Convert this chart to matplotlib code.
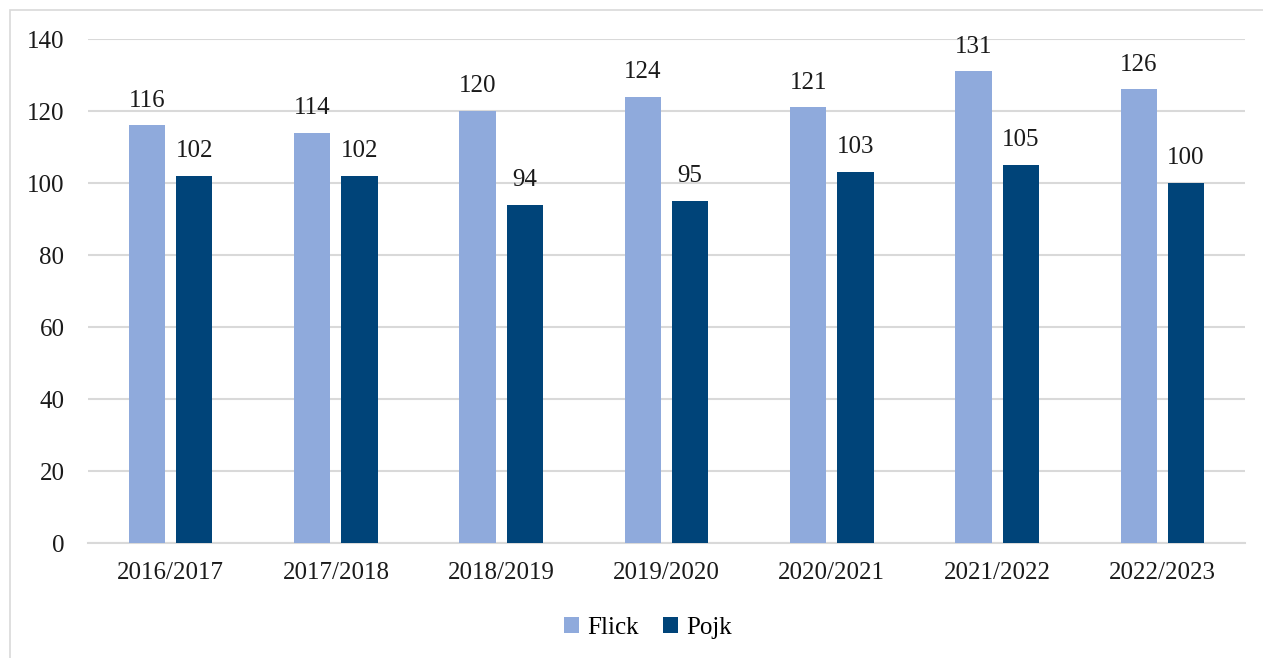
import matplotlib.pyplot as plt
import matplotlib.patches as mpatches
import numpy as np

years = ['2016/2017', '2017/2018', '2018/2019', '2019/2020', '2020/2021', '2021/2022', '2022/2023']
flick = [116, 114, 120, 124, 121, 131, 126]
pojk = [102, 102, 94, 95, 103, 105, 100]

plt.rcParams['font.family'] = ['Liberation Serif', 'DejaVu Serif']

W, H = 1263, 658
fig = plt.figure(figsize=(W / 100, H / 100), dpi=100)
fig.patches.append(mpatches.Rectangle((10 / W, -0.1), 1.2, 1.1 - 10 / H + 0.0,
                                      transform=fig.transFigure, fill=False,
                                      edgecolor='#d9d9d9', linewidth=1.2))
ax = fig.add_axes([88 / W, 1 - 543 / H, (1245 - 88) / W, (543 - 39) / H])

x = np.arange(len(years))
w = 0.22
off = 0.143
b1 = ax.bar(x - off, flick, w, color='#8faadc', label='Flick', zorder=3)
b2 = ax.bar(x + off, pojk, w, color='#004479', label='Pojk', zorder=3)
for bars in (b1, b2):
    for r in bars:
        ax.annotate(str(int(r.get_height())), (r.get_x() + r.get_width() / 2, r.get_height()),
                    xytext=(0, 10), textcoords='offset points', ha='center', va='bottom',
                    fontsize=18, color='#1a1a1a')

ax.set_xlim(-0.5, len(years) - 0.5)
ax.set_ylim(0, 140)
ax.set_yticks(range(0, 141, 20))
ax.set_xticks(x)
ax.set_xticklabels(years)
ax.tick_params(axis='both', length=0, labelsize=18, colors='#1a1a1a')
ax.tick_params(axis='y', pad=17)
ax.tick_params(axis='x', pad=14)
ax.grid(axis='y', color='#d9d9d9', linewidth=1.5, zorder=0)
for s in ('top', 'right', 'left'):
    ax.spines[s].set_visible(False)
ax.spines['bottom'].set_color('#d9d9d9')
ax.spines['bottom'].set_linewidth(1.5)

fig.legend(handles=[b1, b2], loc='center', bbox_to_anchor=(648 / W, 1 - 628 / H), ncol=2,
           frameon=False, fontsize=18, handlelength=0.6, handleheight=0.6,
           handletextpad=0.3, columnspacing=1.0)

fig.savefig('out.png', dpi=100)
